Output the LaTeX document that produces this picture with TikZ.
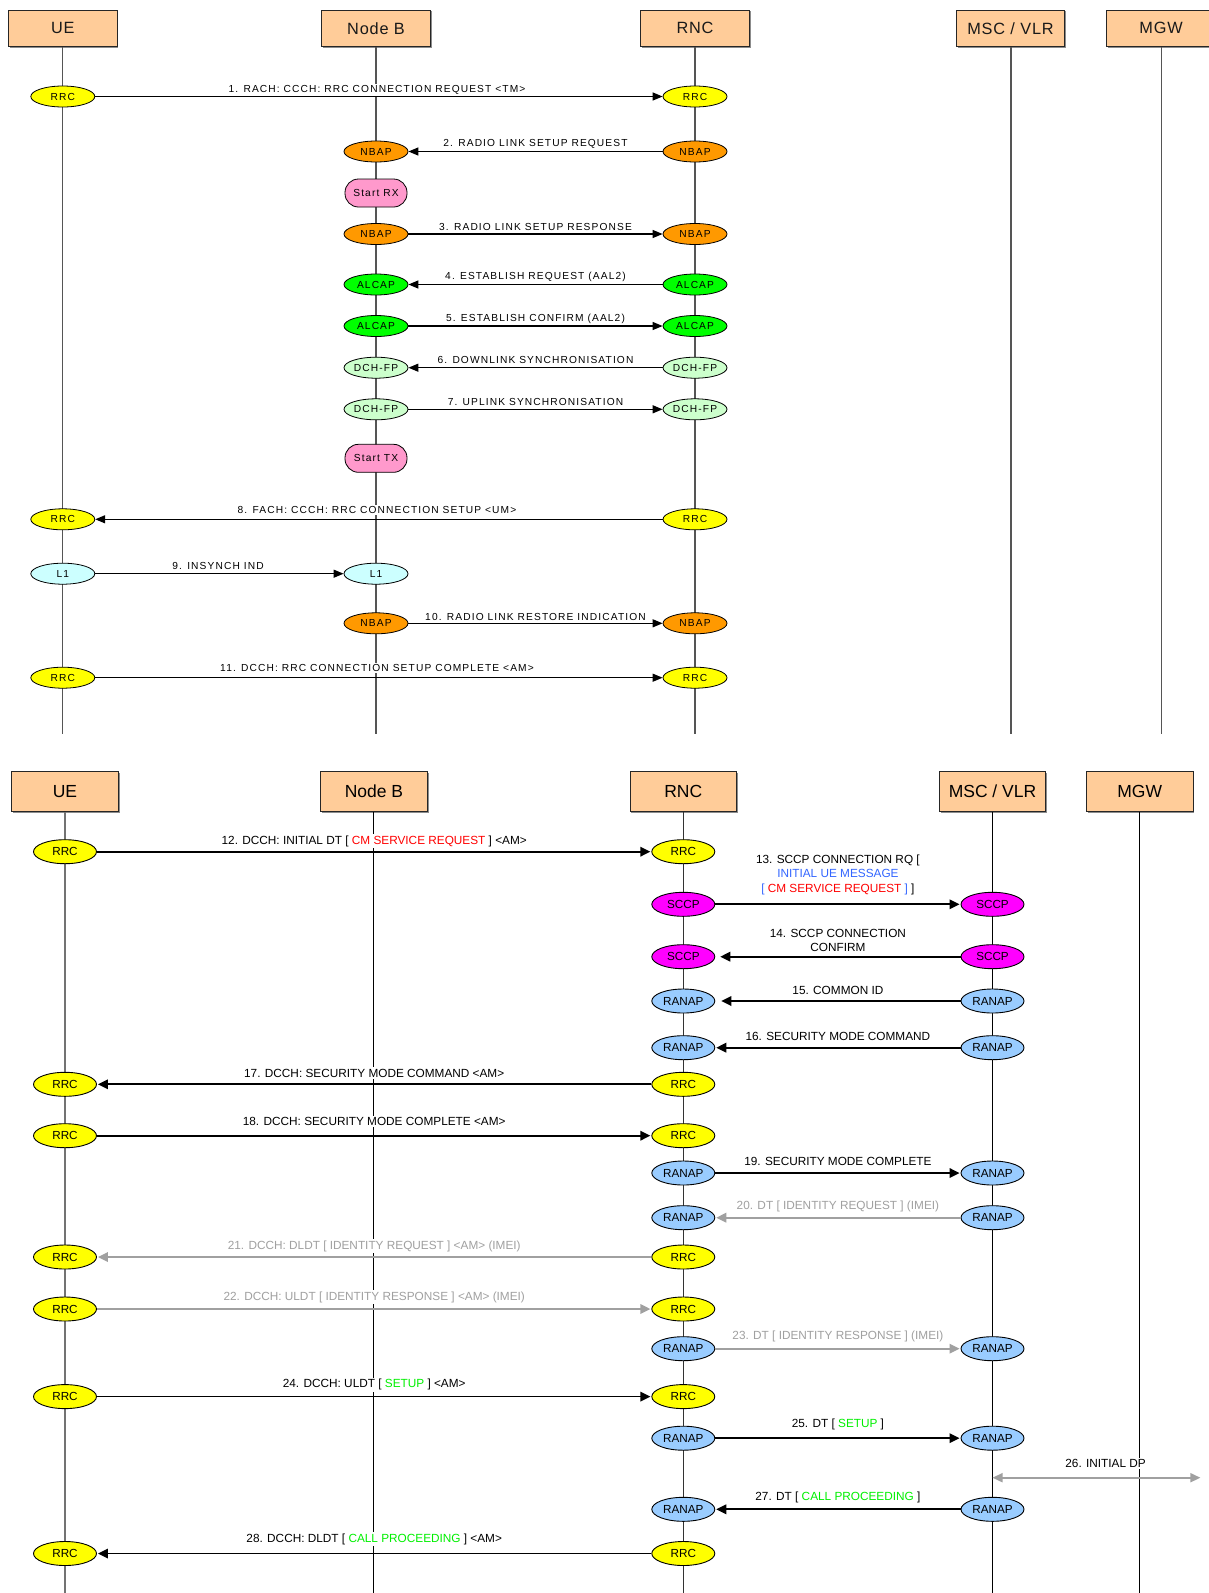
\documentclass[tikz,border=0pt]{standalone}
\usepackage{fontspec}
\setmainfont{Liberation Sans}
\newfontfamily\tsp[LetterSpace=11]{Liberation Sans}
\newfontfamily\thsp[LetterSpace=5]{Liberation Sans}
\usetikzlibrary{arrows.meta,shapes.geometric,shadows}
\definecolor{hdr}{HTML}{FFCC99}
\definecolor{rrcc}{HTML}{FFFF00}
\definecolor{nbapc}{HTML}{FF9900}
\definecolor{startc}{HTML}{FF99CC}
\definecolor{alcapc}{HTML}{00FF00}
\definecolor{dchc}{HTML}{CCFFCC}
\definecolor{lonec}{HTML}{CCFFFF}
\definecolor{sccpc}{HTML}{FF00FF}
\definecolor{ranapc}{HTML}{99CCFF}
\definecolor{msgred}{HTML}{FF0000}
\definecolor{msgblue}{HTML}{3366FF}
\definecolor{msggreen}{HTML}{00F000}
\definecolor{msggray}{HTML}{A0A0A0}
\definecolor{lifegray}{HTML}{555555}
\newcommand{\red}[1]{\textcolor{msgred}{#1}}
\newcommand{\blu}[1]{\textcolor{msgblue}{#1}}
\newcommand{\grn}[1]{\textcolor{msggreen}{#1}}
\tikzset{
  hboxt/.style={draw=black!85, line width=0.9pt, fill=hdr, minimum width=108.5pt, minimum height=36.7pt, inner sep=0pt,
    text=black!90, font=\thsp\fontsize{16.3}{18}\selectfont,
    drop shadow={shadow xshift=1.3pt, shadow yshift=-1.3pt, fill=black!45, opacity=1}},
  hboxb/.style={draw=black!85, line width=0.9pt, fill=hdr, minimum width=106.5pt, minimum height=39.6pt, inner sep=0pt,
    text=black, font=\fontsize{17.5}{20}\selectfont,
    drop shadow={shadow xshift=1.3pt, shadow yshift=-1.3pt, fill=black!45, opacity=1}},
  tell/.style={ellipse, draw=black, line width=0.8pt, minimum width=64pt, minimum height=21pt, inner sep=0pt,
    font=\tsp\fontsize{10.2}{12}\selectfont},
  bell/.style={ellipse, draw=black, line width=0.9pt, minimum width=63pt, minimum height=24pt, inner sep=0pt,
    font=\fontsize{11.7}{13}\selectfont},
  startbox/.style={rectangle, rounded corners=13.5pt, draw=black, line width=0.8pt, fill=startc, minimum width=62pt,
    minimum height=28pt, inner sep=0pt, font=\tsp\fontsize{10.2}{12}\selectfont},
  tarr/.style={line width=1.3pt, -{Triangle[length=10pt,width=8pt]}},
  barr/.style={line width=1.7pt, -{Triangle[length=10pt,width=9.5pt]}, shorten >=1pt},
  garr/.style={barr, draw=msggray, color=msggray},
  tlab/.style={fill=white, inner sep=1.5pt, font=\tsp\fontsize{10.2}{12}\selectfont},
  blab/.style={fill=white, inner sep=1.5pt, font=\fontsize{11.8}{14.4}\selectfont},
  glab/.style={blab, text=msggray},
  tlife/.style={draw=lifegray, line width=1.3pt},
  blife/.style={draw=black, line width=1pt},
}
\begin{document}
\begin{tikzpicture}[x=1pt,y=-1pt]
\useasboundingbox (0,0) rectangle (1208,1593);
\fill[white] (0,0) rectangle (1208,1593);

% ================= TOP DIAGRAM =================
\coordinate (tUEe) at (62.8,734);
\coordinate (tNBe) at (376,734);
\coordinate (tRNCe) at (695,734);
\coordinate (tMSCe) at (1011,734);
\coordinate (tMGWe) at (1161.3,734);
\node[hboxt] (tUE)  at (62.8,28.3) {UE};
\node[hboxt] (tNB)  at (376,28.3) {Node B};
\node[hboxt] (tRNC) at (695,28.3) {RNC};
\node[hboxt] (tMSC) at (1010.5,28.3) {MSC / VLR};
\node[hboxt] (tMGW) at (1161,28.3) {MGW};
\draw[tlife] (tUE.south) -- (tUEe);
\draw[tlife] (tNB.south) -- (tNBe);
\draw[tlife] (tRNC.south) -- (tRNCe);
\draw[tlife] (tMSC.south -| tMSCe) -- (tMSCe);
\draw[tlife] (tMGW.south -| tMGWe) -- (tMGWe);

\node[tell, fill=rrcc] (t1a) at (62.8,96.5) {RRC};
\node[tell, fill=rrcc] (t1b) at (695,96.5) {RRC};
\node[tell, fill=nbapc] (t2a) at (376,151.5) {NBAP};
\node[tell, fill=nbapc] (t2b) at (695,151.5) {NBAP};
\node[startbox] (srx) at (376,193) {Start RX};
\node[tell, fill=nbapc] (t3a) at (376,234) {NBAP};
\node[tell, fill=nbapc] (t3b) at (695,234) {NBAP};
\node[tell, fill=alcapc] (t4a) at (376,284.5) {ALCAP};
\node[tell, fill=alcapc] (t4b) at (695,284.5) {ALCAP};
\node[tell, fill=alcapc] (t5a) at (376,326) {ALCAP};
\node[tell, fill=alcapc] (t5b) at (695,326) {ALCAP};
\node[tell, fill=dchc] (t6a) at (376,367.7) {DCH-FP};
\node[tell, fill=dchc] (t6b) at (695,367.7) {DCH-FP};
\node[tell, fill=dchc] (t7a) at (376,409.3) {DCH-FP};
\node[tell, fill=dchc] (t7b) at (695,409.3) {DCH-FP};
\node[startbox] (stx) at (376,458.3) {Start TX};
\node[tell, fill=rrcc] (t8a) at (62.8,519.3) {RRC};
\node[tell, fill=rrcc] (t8b) at (695,519.3) {RRC};
\node[tell, fill=lonec] (t9a) at (62.8,573.7) {L1};
\node[tell, fill=lonec] (t9b) at (376,573.7) {L1};
\node[tell, fill=nbapc] (t10a) at (376,623.3) {NBAP};
\node[tell, fill=nbapc] (t10b) at (695,623.3) {NBAP};
\node[tell, fill=rrcc] (t11a) at (62.8,677.7) {RRC};
\node[tell, fill=rrcc] (t11b) at (695,677.7) {RRC};

\node[tlab] (tl1) at (377,90) {1. RACH: CCCH: RRC CONNECTION REQUEST <TM>};
\node[tlab] (tl2) at (535.5,143.7) {2. RADIO LINK SETUP REQUEST};
\node[tlab] (tl3) at (535.5,227) {3. RADIO LINK SETUP RESPONSE};
\node[tlab] (tl4) at (535.5,276.8) {4. ESTABLISH REQUEST (AAL2)};
\node[tlab] (tl5) at (535.5,318.5) {5. ESTABLISH CONFIRM (AAL2)};
\node[tlab] (tl6) at (535.5,359.8) {6. DOWNLINK SYNCHRONISATION};
\node[tlab] (tl7) at (535.5,401.5) {7. UPLINK SYNCHRONISATION};
\node[tlab] (tl8) at (377,509.8) {8. FACH: CCCH: RRC CONNECTION SETUP <UM>};
\node[tlab] (tl9) at (218,565.5) {9. INSYNCH IND};
\node[tlab] (tl10) at (535.5,616.5) {10. RADIO LINK RESTORE INDICATION};
\node[tlab] (tl11) at (377,668) {11. DCCH: RRC CONNECTION SETUP COMPLETE <AM>};

\draw[tarr] (t1a) -- (t1b);
\draw[tarr] (t2b) -- (t2a);
\draw[tarr] (t3a) -- (t3b);
\draw[tarr] (t4b) -- (t4a);
\draw[tarr] (t5a) -- (t5b);
\draw[tarr] (t6b) -- (t6a);
\draw[tarr] (t7a) -- (t7b);
\draw[tarr] (t8b) -- (t8a);
\draw[tarr] (t9a) -- (t9b);
\draw[tarr] (t10a) -- (t10b);
\draw[tarr] (t11a) -- (t11b);

% ================= BOTTOM DIAGRAM =================
\coordinate (bUEe) at (65,1600);
\coordinate (bNBe) at (373.5,1600);
\coordinate (bRNCe) at (683.3,1600);
\coordinate (bMSCe) at (992.5,1600);
\coordinate (bMGWe) at (1139.7,1600);
\node[hboxb] (bUE)  at (65,791.5) {UE};
\node[hboxb] (bNB)  at (374,791.5) {Node B};
\node[hboxb] (bRNC) at (683.3,791.5) {RNC};
\node[hboxb] (bMSC) at (992.5,791.5) {MSC / VLR};
\node[hboxb] (bMGW) at (1139.7,791.5) {MGW};
\draw[draw=black!55, line width=1.6pt] (bUE.south) -- (bUEe);
\draw[blife, line width=0.9pt] (bNB.south -| bNBe) -- (bNBe);
\draw[blife, draw=black!80] (bRNC.south) -- (bRNCe);
\draw[blife] (bMSC.south) -- (bMSCe);
\draw[blife] (bMGW.south) -- (bMGWe);

\node[bell, fill=rrcc] (b12a) at (65,851.7) {RRC};
\node[bell, fill=rrcc] (b12b) at (683.3,851.7) {RRC};
\node[bell, fill=sccpc] (b13a) at (683.3,904.3) {SCCP};
\node[bell, fill=sccpc] (b13b) at (992.5,904.3) {SCCP};
\node[bell, fill=sccpc] (b14a) at (683.3,956.7) {SCCP};
\node[bell, fill=sccpc] (b14b) at (992.5,956.7) {SCCP};
\node[bell, fill=ranapc] (b15a) at (683.3,1001) {RANAP};
\node[bell, fill=ranapc] (b15b) at (992.5,1001) {RANAP};
\node[bell, fill=ranapc] (b16a) at (683.3,1047.7) {RANAP};
\node[bell, fill=ranapc] (b16b) at (992.5,1047.7) {RANAP};
\node[bell, fill=rrcc] (b17a) at (65,1084.3) {RRC};
\node[bell, fill=rrcc] (b17b) at (683.3,1084.3) {RRC};
\node[bell, fill=rrcc] (b18a) at (65,1135.7) {RRC};
\node[bell, fill=rrcc] (b18b) at (683.3,1135.7) {RRC};
\node[bell, fill=ranapc] (b19a) at (683.3,1173) {RANAP};
\node[bell, fill=ranapc] (b19b) at (992.5,1173) {RANAP};
\node[bell, fill=ranapc] (b20a) at (683.3,1217.7) {RANAP};
\node[bell, fill=ranapc] (b20b) at (992.5,1217.7) {RANAP};
\node[bell, fill=rrcc] (b21a) at (65,1257) {RRC};
\node[bell, fill=rrcc] (b21b) at (683.3,1257) {RRC};
\node[bell, fill=rrcc] (b22a) at (65,1309) {RRC};
\node[bell, fill=rrcc] (b22b) at (683.3,1309) {RRC};
\node[bell, fill=ranapc] (b23a) at (683.3,1348.7) {RANAP};
\node[bell, fill=ranapc] (b23b) at (992.5,1348.7) {RANAP};
\node[bell, fill=rrcc] (b24a) at (65,1396.6) {RRC};
\node[bell, fill=rrcc] (b24b) at (683.3,1396.6) {RRC};
\node[bell, fill=ranapc] (b25a) at (683.3,1438.2) {RANAP};
\node[bell, fill=ranapc] (b25b) at (992.5,1438.2) {RANAP};
\coordinate (c26a) at (992.5,1477.7);
\coordinate (c26b) at (1200.4,1477.7);
\node[bell, fill=ranapc] (b27a) at (683.3,1509.3) {RANAP};
\node[bell, fill=ranapc] (b27b) at (992.5,1509.3) {RANAP};
\node[bell, fill=rrcc] (b28a) at (65,1553.5) {RRC};
\node[bell, fill=rrcc] (b28b) at (683.3,1553.5) {RRC};

\node[blab] (bl12) at (374.2,841) {12. DCCH: INITIAL DT [ \red{CM SERVICE REQUEST} ] <AM>};
\node[blab, align=center] (bl13) at (837.9,874.8) {13. SCCP CONNECTION RQ [\\\blu{INITIAL UE MESSAGE}\\\blu{[} \red{CM SERVICE REQUEST} \blu{]} ]};
\node[blab, align=center] (bl14) at (837.9,940.2) {14. SCCP CONNECTION\\CONFIRM};
\node[blab] (bl15) at (837.9,990.7) {15. COMMON ID};
\node[blab] (bl16) at (837.9,1036.7) {16. SECURITY MODE COMMAND};
\node[blab] (bl17) at (374.2,1073) {17. DCCH: SECURITY MODE COMMAND <AM>};
\node[blab] (bl18) at (374.2,1121.6) {18. DCCH: SECURITY MODE COMPLETE <AM>};
\node[blab] (bl19) at (837.9,1161.3) {19. SECURITY MODE COMPLETE};
\node[glab] (bl20) at (837.9,1206.7) {20. DT [ IDENTITY REQUEST ] (IMEI)};
\node[glab] (bl21) at (374.2,1246) {21. DCCH: DLDT [ IDENTITY REQUEST ] <AM> (IMEI)};
\node[glab] (bl22) at (374.2,1297) {22. DCCH: ULDT [ IDENTITY RESPONSE ] <AM> (IMEI)};
\node[glab] (bl23) at (837.9,1336.5) {23. DT [ IDENTITY RESPONSE ] (IMEI)};
\node[blab] (bl24) at (374.2,1384.5) {24. DCCH: ULDT [ \grn{SETUP} ] <AM>};
\node[blab] (bl25) at (837.9,1424.7) {25. DT [ \grn{SETUP} ]};
\node[blab] (bl26) at (1105.6,1463.7) {26. INITIAL DP};
\node[blab] (bl27) at (837.9,1497) {27. DT [ \grn{CALL PROCEEDING} ]};
\node[blab] (bl28) at (374.2,1539) {28. DCCH: DLDT [ \grn{CALL PROCEEDING} ] <AM>};

\draw[barr] (b12a) -- (b12b);
\draw[barr] (b13a) -- (b13b);
\draw[barr, shorten >=5pt] (b14b) -- (b14a);
\draw[barr, shorten >=6pt] (b15b) -- (b15a);
\draw[barr] (b16b) -- (b16a);
\draw[barr] (b17b) -- (b17a);
\draw[barr] (b18a) -- (b18b);
\draw[barr] (b19a) -- (b19b);
\draw[garr] (b20b) -- (b20a);
\draw[garr] (b21b) -- (b21a);
\draw[garr] (b22a) -- (b22b);
\draw[garr] (b23a) -- (b23b);
\draw[barr] (b24a) -- (b24b);
\draw[barr] (b25a) -- (b25b);
\draw[line width=1.7pt, draw=msggray, color=msggray, {Triangle[length=10pt,width=9pt]}-{Triangle[length=10pt,width=9pt]}] (c26a) -- (c26b);
\draw[barr] (b27b) -- (b27a);
\draw[barr] (b28b) -- (b28a);
\end{tikzpicture}
\end{document}
